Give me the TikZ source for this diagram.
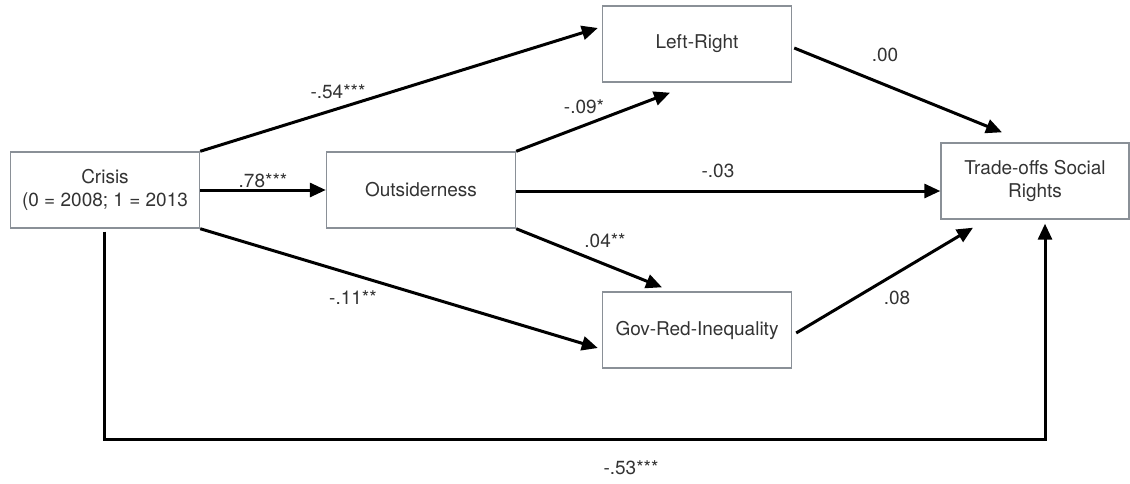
\documentclass[tikz,border=0pt]{standalone}
\usepackage{fontspec}
\setmainfont{TeX Gyre Heros}
\usetikzlibrary{arrows.meta}
\definecolor{boxgray}{HTML}{8A9097}
\definecolor{txt}{HTML}{333333}
\tikzset{
  varbox/.style={draw=boxgray, line width=1.4pt, minimum width=189pt, minimum height=76pt, inner sep=0pt, align=center, text=txt, font=\fontsize{19}{23}\selectfont},
  arr/.style={line width=3pt, -{Triangle[length=16pt,width=14pt]}},
  coef/.style={text=txt, inner sep=0pt, font=\fontsize{19}{23}\selectfont}
}
\begin{document}
\begin{tikzpicture}[x=1pt,y=-1pt]
\useasboundingbox (0,0) rectangle (1130,483);
\node[varbox] (crisis) at (105,190) {Crisis\\(0 = 2008; 1 = 2013};
\node[varbox] (out) at (421,190) {Outsiderness};
\node[varbox] (lr) at (697,44) {Left-Right};
\node[varbox] (gov) at (697,330) {Gov-Red-Inequality};
\node[varbox, minimum width=188pt] (tso) at (1035,181) {Trade-offs Social\\Rights};
\coordinate (corner) at (1045,439);

\draw[arr] (crisis.north east) -- ([xshift=-4pt,yshift=16pt]lr.west);
\draw[arr] (crisis.east) -- (out.west);
\draw[arr] (crisis.south east) -- ([xshift=-4pt,yshift=-18pt]gov.west);
\draw[arr] (out.north east) -- ([xshift=-27pt,yshift=-10pt]lr.south);
\draw[arr] ([yshift=-1pt]out.east) -- ([yshift=-1pt]out.east -| tso.west);
\draw[arr] (out.south east) -- ([xshift=-35pt,yshift=4pt]gov.north);
\draw[arr] ([xshift=2pt,yshift=-4pt]lr.east) -- ([xshift=-33pt,yshift=10pt]tso.north);
\draw[arr] ([xshift=4pt,yshift=-3pt]gov.east) -- ([xshift=-62pt,yshift=-8pt]tso.south);
\draw[arr] ([xshift=-1pt,yshift=-3pt]crisis.south) |- (corner) -- ([xshift=10pt,yshift=-4pt]tso.south);

\node[coef] (c1) at (263,181) {.78***};
\node[coef] (c2) at (338,92) {-.54***};
\node[coef] (c3) at (353,298) {-.11**};
\node[coef] (c4) at (584,107) {-.09*};
\node[coef] (c5) at (718,171) {-.03};
\node[coef] (c6) at (605,241) {.04**};
\node[coef] (c7) at (885,55) {.00};
\node[coef] (c8) at (897,298) {.08};
\node[coef] (c9) at (631,468) {-.53***};
\end{tikzpicture}
\end{document}
